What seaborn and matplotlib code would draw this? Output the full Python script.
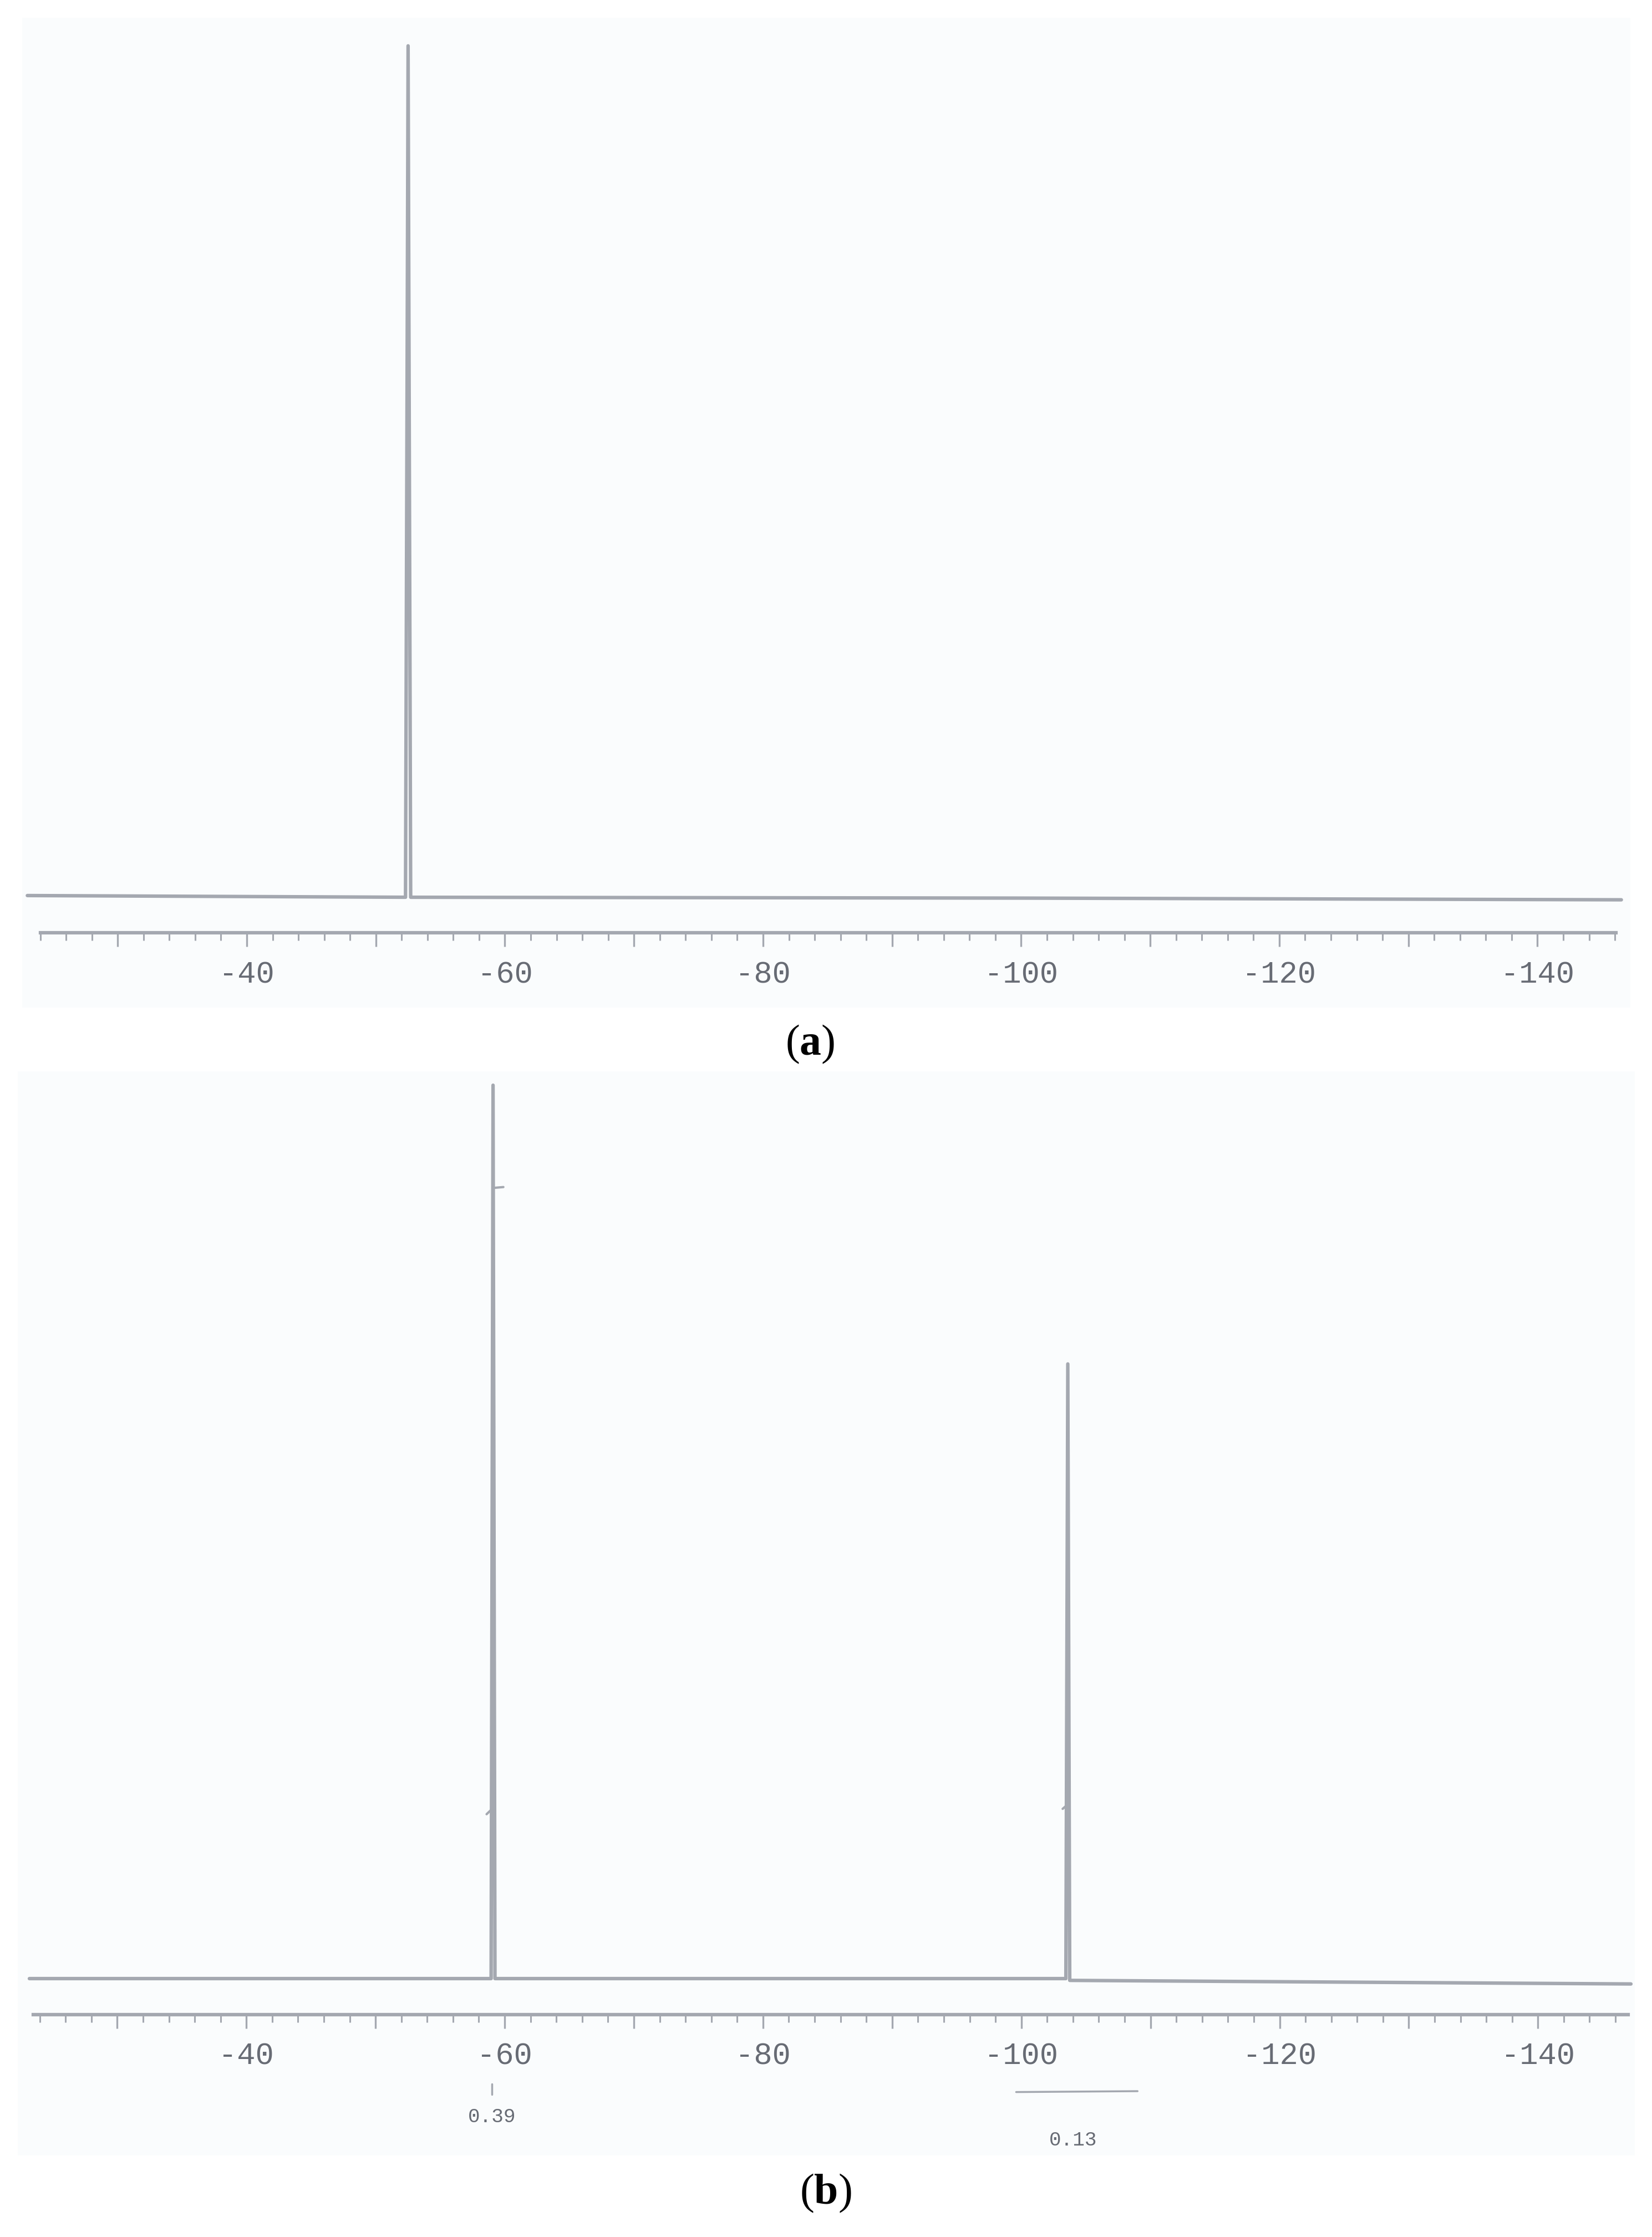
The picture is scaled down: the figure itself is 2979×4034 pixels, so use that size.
import pandas as pd
import matplotlib
matplotlib.use("Agg")
import matplotlib.pyplot as plt
from matplotlib.ticker import MultipleLocator, FuncFormatter
import seaborn as sns

# CONFIG
W, H, DPI = 2979, 4034, 100
LINE = '#a4a8b0'
TEXT = '#676b74'
PAPER = '#fafcfd'

# (a) one 19F resonance, normalised height
a_ppm = [-23.0, -52.3, -52.5, -52.7, -100.0, -146.5]
a_int = [0.2, 0.0, 100.0, 0.0, -0.1, -0.3]

# (b) two resonances + integrals
b_ppm = [-23.2, -58.95, -59.1, -59.25, -103.45, -103.6, -103.75, -147.2]
b_int = [0.0, 0.0, 100.0, 0.0, 0.0, 68.8, -0.2, -0.6]
b_integral_labels = ['0.39', '0.13']
b_integral_ppm = [-59.0, -104.0]
b_integral_y = [-15.5, -18.1]

sns.set_style("white")
plt.rcParams['mathtext.fontset'] = 'custom'
plt.rcParams['mathtext.rm'] = 'Liberation Serif'
plt.rcParams['mathtext.bf'] = 'Liberation Serif:bold'

fig = plt.figure(figsize=(W / DPI, H / DPI), dpi=DPI)


def px_axes(x0, y0, x1, y1):
    return fig.add_axes([x0 / W, 1 - y1 / H, (x1 - x0) / W, (y1 - y0) / H])


def ruler(ax, ruler_y, lo, hi):
    for s in ['top', 'left', 'right']:
        ax.spines[s].set_visible(False)
    sp = ax.spines['bottom']
    sp.set_position(('data', ruler_y))
    sp.set_bounds(lo, hi)
    sp.set_color(LINE)
    sp.set_linewidth(4.5)
    ax.xaxis.set_major_locator(MultipleLocator(10))
    ax.xaxis.set_minor_locator(MultipleLocator(2))
    ax.xaxis.set_major_formatter(FuncFormatter(
        lambda v, p: f"{v:.0f}" if round(v) % 20 == 0 else ""))
    ax.tick_params(axis='x', which='major', direction='out', length=18, width=2.4,
                   color=LINE, pad=18, labelsize=40, labelcolor=TEXT, bottom=True)
    ax.tick_params(axis='x', which='minor', direction='out', length=10, width=2.2,
                   color=LINE, bottom=True)
    for t in ax.get_xticklabels():
        t.set_fontfamily('Liberation Mono')
    ax.set_yticks([])
    ax.set_xlabel('')
    ax.set_ylabel('')
    ax.set_facecolor(PAPER)


# panel (a)
ax1 = px_axes(40, 32, 2940, 1817)
df_a = pd.DataFrame({'ppm': a_ppm, 'intensity': a_int})
sns.lineplot(data=df_a, x='ppm', y='intensity', ax=ax1, sort=False,
             estimator=None, color=LINE, lw=4.5)
ax1.set_xlim(-22.6, -147.2)
ax1.set_ylim(-12.96, 103.3)
ruler(ax1, -4.17, -24, -146.1)

# panel (b)
ax2 = px_axes(32, 1932, 2948, 3887)
df_b = pd.DataFrame({'ppm': b_ppm, 'intensity': b_int})
sns.lineplot(data=df_b, x='ppm', y='intensity', ax=ax2, sort=False,
             estimator=None, color=LINE, lw=4.5)
ax2.set_xlim(-22.3, -147.5)
ax2.set_ylim(-19.8, 101.55)
ruler(ax2, -4.03, -23.5, -147.0)

# integral trace fragments on the peaks
ax2.plot([-59.1, -59.9], [88.5, 88.6], color=LINE, lw=3)
ax2.plot([-59.1, -58.6], [19.1, 18.4], color=LINE, lw=3)
ax2.plot([-103.6, -103.2], [19.5, 19.0], color=LINE, lw=3)

# integral marks and values
ax2.plot([-59.0, -59.0], [-11.8, -13.0], color=LINE, lw=2.5)
ax2.plot([-99.6, -109.0], [-12.7, -12.6], color=LINE, lw=2.5)
for lab, xp, yp in zip(b_integral_labels, b_integral_ppm, b_integral_y):
    ax2.text(xp, yp, lab, ha='center', va='center', fontsize=26,
             color=TEXT, family='Liberation Mono')

# panel letters
fig.text(1461 / W, 1 - 1883 / H, r'$\mathrm{(}\mathbf{a}\mathrm{)}$',
         ha='center', va='center', fontsize=56, color='black')
fig.text(1489 / W, 1 - 3955 / H, r'$\mathrm{(}\mathbf{b}\mathrm{)}$',
         ha='center', va='center', fontsize=56, color='black')

fig.savefig('out.png', dpi=DPI, facecolor='white')
